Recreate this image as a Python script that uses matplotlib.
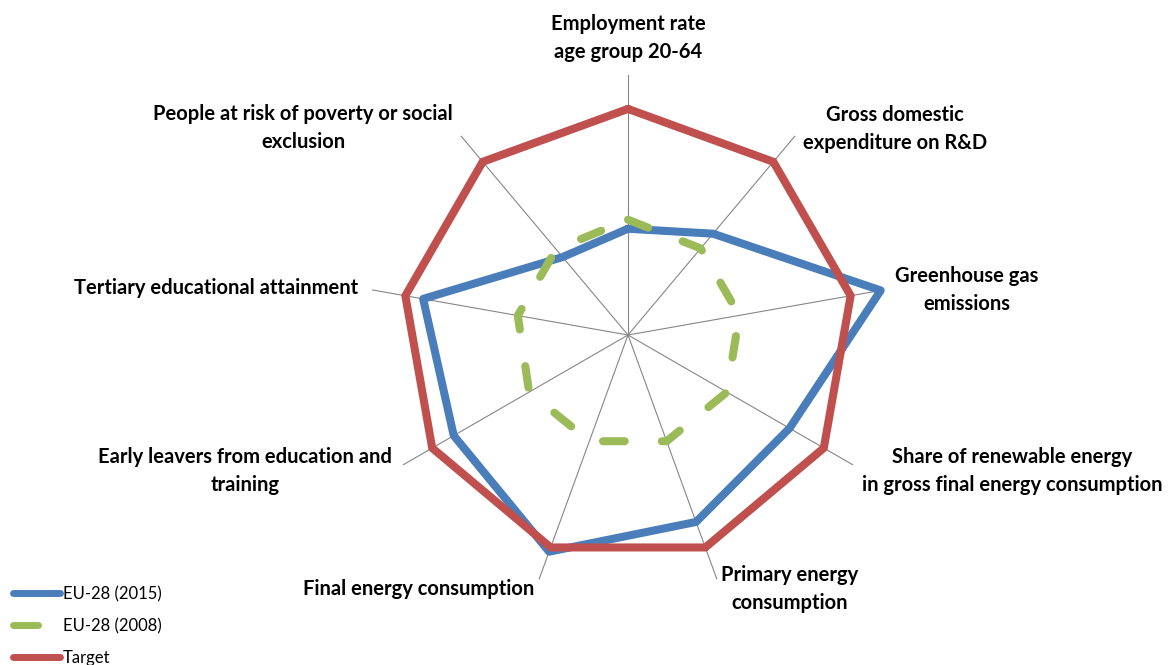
import numpy as np
import matplotlib
matplotlib.use("Agg")
import matplotlib.pyplot as plt
from matplotlib.lines import Line2D

plt.rcParams["font.family"] = ["Lato", "DejaVu Sans"]

# ---------- data (index, target = 100) ----------
categories = [
    "Employment rate\nage group 20-64",
    "Gross domestic\nexpenditure on R&D",
    "Greenhouse gas\nemissions",
    "Share of renewable energy\nin gross final energy consumption",
    "Primary energy\nconsumption",
    "Final energy consumption",
    "Early leavers from education and\ntraining",
    "Tertiary educational attainment",
    "People at risk of poverty or social\nexclusion",
]
eu_2015 = [47, 58.5, 113.5, 82.5, 88, 102, 89, 92, 45]
eu_2008 = [51, 50, 50, 50.5, 50, 50, 50.5, 49.5, 49.5]
target = [100, 100, 100, 100, 100, 100, 100, 100, 100]
series_names = ["EU-28 (2015)", "EU-28 (2008)", "Target"]

RMAX = 115
BLUE, GREEN, RED = "#4A7EBB", "#9BBB59", "#C0504D"

# label placement: (ha, offset x px, offset y px)
label_pos = [
    ("center", 0, 13),
    ("left", 8, 7),
    ("left", 11, 0),
    ("left", 9, -6),
    ("left", 4, -10),
    ("right", -5, -10),
    ("right", -11, -6),
    ("right", -14, 2),
    ("right", -8, 8),
]

W, H = 1168, 665
fig = plt.figure(figsize=(W / 100, H / 100), dpi=100)
cx, cy, rad = 628, 335, 260
ax = fig.add_axes([(cx - rad) / W, (H - cy - rad) / H, 2 * rad / W, 2 * rad / H],
                  projection="polar")
ax.set_theta_zero_location("N")
ax.set_theta_direction(-1)

n = len(categories)
angles = np.arange(n) * 2 * np.pi / n
ang_closed = np.append(angles, angles[0])


def closed(vals):
    return np.append(vals, vals[0])


lw = 5.8
ax.plot(ang_closed, closed(eu_2015), color=BLUE, lw=lw, solid_joinstyle="round",
        solid_capstyle="round", clip_on=False, zorder=3)
ax.plot(ang_closed, closed(eu_2008), color=GREEN, lw=lw, dashes=(2.7, 4.6),
        dash_capstyle="round", dash_joinstyle="round", clip_on=False, zorder=4)
ax.plot(ang_closed, closed(target), color=RED, lw=lw, solid_joinstyle="miter",
        solid_capstyle="round", clip_on=False, zorder=5)

ax.set_ylim(0, RMAX)
ax.set_yticks([])
ax.set_xticks(angles)
ax.set_xticklabels([])
ax.xaxis.grid(True, color="#868686", lw=0.8)
ax.spines["polar"].set_visible(False)
ax.set_facecolor("none")
ax.set_axisbelow(True)

for a, lab, (ha, ox, oy) in zip(angles, categories, label_pos):
    va = "bottom" if ha == "center" else "center"
    ax.annotate(lab, xy=(a, RMAX), xytext=(ox, oy), textcoords="offset pixels",
                ha=ha, va=va, multialignment="center", fontsize=14.5,
                fontweight="bold", color="#000000", linespacing=1.5,
                annotation_clip=False)

handles = [
    Line2D([], [], color=BLUE, lw=5, solid_capstyle="round"),
    Line2D([], [], color=GREEN, lw=5, dashes=(3.6, 6), dash_capstyle="round"),
    Line2D([], [], color=RED, lw=5, solid_capstyle="round"),
]
fig.legend(handles, series_names, loc="upper left",
           bbox_to_anchor=(13 / W, 1 - 586 / H), frameon=False, fontsize=12,
           handlelength=2.8, handletextpad=0.2, labelspacing=0.95,
           borderpad=0, borderaxespad=0)

fig.savefig("out.png", dpi=100)
